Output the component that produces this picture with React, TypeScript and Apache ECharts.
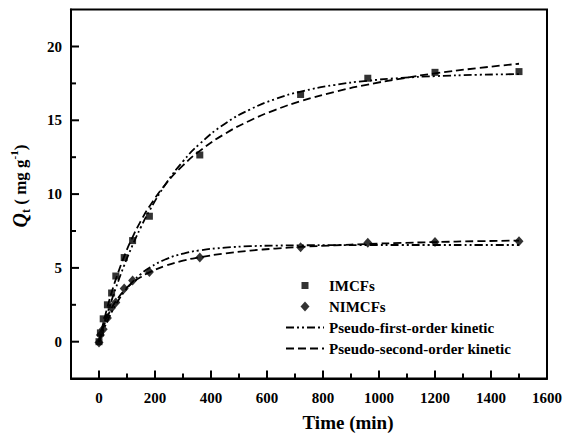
import React, { useEffect, useRef } from "react";
import * as echarts from "echarts";

// Experimental data (time in min, Qt in mg/g)
const TIME_POINTS = [0, 5, 15, 30, 45, 60, 90, 120, 180, 360, 720, 960, 1200, 1500];
const IMCFS_Q = [0, 0.6, 1.55, 2.5, 3.3, 4.45, 5.7, 6.85, 8.5, 12.65, 16.75, 17.85, 18.25, 18.3];
const NIMCFS_Q = [-0.05, 0.45, 0.85, 1.6, 2.3, 2.65, 3.6, 4.15, 4.72, 5.7, 6.4, 6.7, 6.75, 6.8];

// Fitted curves
const FIT_TIMES = [0, 10, 20, 30, 45, 60, 90, 120, 150, 180, 240, 300, 360, 450, 540, 630, 720, 840, 960, 1080, 1200, 1350, 1500];
const PFO_IMCFS = [0, 0.66, 1.3, 1.92, 2.8, 3.63, 5.17, 6.54, 7.77, 8.87, 10.73, 12.22, 13.41, 14.77, 15.74, 16.44, 16.94, 17.39, 17.68, 17.87, 17.99, 18.08, 18.13];
const PSO_IMCFS = [0, 0.84, 1.61, 2.34, 3.33, 4.22, 5.78, 7.09, 8.2, 9.16, 10.72, 11.94, 12.93, 14.09, 14.99, 15.71, 16.29, 16.92, 17.42, 17.83, 18.18, 18.53, 18.83];
const PFO_NIMCFS = [0, 0.51, 0.97, 1.41, 1.99, 2.51, 3.38, 4.06, 4.59, 5.01, 5.6, 5.96, 6.19, 6.37, 6.47, 6.51, 6.53, 6.54, 6.55, 6.55, 6.55, 6.55, 6.55];
const PSO_NIMCFS = [0, 0.67, 1.22, 1.69, 2.27, 2.74, 3.47, 3.99, 4.39, 4.7, 5.16, 5.49, 5.72, 5.98, 6.17, 6.31, 6.42, 6.53, 6.62, 6.69, 6.75, 6.81, 6.85];

// Axis ranges and ticks
const X_RANGE = [-100, 1600];
const Y_RANGE = [-2.5, 22.5];
const X_MAJOR = [0, 200, 400, 600, 800, 1000, 1200, 1400, 1600];
const X_MINOR = [100, 300, 500, 700, 900, 1100, 1300, 1500];
const Y_MAJOR = [0, 5, 10, 15, 20];
const Y_MINOR = [2.5, 7.5, 12.5, 17.5];

const LEGEND_NAMES = ["IMCFs", "NIMCFs", "Pseudo-first-order kinetic", "Pseudo-second-order kinetic"];

const FONT = '"Liberation Serif", "Times New Roman", serif';

function pairs(xs: number[], ys: number[]) {
  return xs.map((x, i) => [x, ys[i]]);
}

export default function App() {
  const ref = useRef<HTMLDivElement>(null);
  useEffect(() => {
    if (!ref.current) return;
    const chart = echarts.init(ref.current, null, { renderer: "svg" });
    const axisLineStyle = { color: "#000", width: 2 };
    const labelStyle = { color: "#000", fontFamily: FONT, fontWeight: "bold" as const, fontSize: 15 };
    const pfoLine = { color: "#000", width: 1.8, type: [8, 3, 2, 3, 2, 3] };
    const psoLine = { color: "#000", width: 1.8, type: [8, 4] };
    const plain = (v: number) => String(v);
    const hiddenSymbol = { color: "rgba(0,0,0,0)", borderColor: "rgba(0,0,0,0)", borderWidth: 0 };
    chart.setOption({
      animation: false,
      backgroundColor: "#fff",
      grid: {
        left: 71,
        right: 15.6,
        top: 9.6,
        bottom: 57.4,
        show: true,
        borderColor: "#000",
        borderWidth: 2,
      },
      xAxis: {
        type: "value",
        min: X_RANGE[0],
        max: X_RANGE[1],
        position: "bottom",
        axisLine: { show: true, onZero: false, lineStyle: axisLineStyle },
        splitLine: { show: false },
        axisTick: { show: false },
        axisLabel: { ...labelStyle, margin: 12, customValues: X_MAJOR, formatter: plain },
      },
      yAxis: {
        type: "value",
        min: Y_RANGE[0],
        max: Y_RANGE[1],
        position: "left",
        axisLine: { show: true, onZero: false, lineStyle: axisLineStyle },
        splitLine: { show: false },
        axisTick: { show: false },
        axisLabel: { ...labelStyle, margin: 9, customValues: Y_MAJOR, formatter: plain },
      },
      legend: {
        data: [
          { name: LEGEND_NAMES[0], icon: "path://M0,0 M14,14 M3.5,3.5 L10.5,3.5 L10.5,10.5 L3.5,10.5 Z" },
          { name: LEGEND_NAMES[1], icon: "path://M0,0 M14,14 M7,2 L11.5,7 L7,12 L2.5,7 Z" },
          { name: LEGEND_NAMES[2], itemStyle: hiddenSymbol },
          { name: LEGEND_NAMES[3], itemStyle: hiddenSymbol },
        ],
        orient: "vertical",
        left: 280,
        top: 273,
        itemWidth: 38,
        itemHeight: 14,
        itemGap: 6,
        itemTextGap: 8,
        textStyle: { ...labelStyle, fontSize: 15 },
      },
      series: [
        {
          name: LEGEND_NAMES[2],
          type: "line",
          data: pairs(FIT_TIMES, PFO_IMCFS),
          smooth: true,
          symbol: "none",
          lineStyle: pfoLine,
          itemStyle: { color: "#000" },
          z: 2,
        },
        {
          name: LEGEND_NAMES[2],
          type: "line",
          data: pairs(FIT_TIMES, PFO_NIMCFS),
          smooth: true,
          symbol: "none",
          lineStyle: pfoLine,
          itemStyle: { color: "#000" },
          z: 2,
        },
        {
          name: LEGEND_NAMES[3],
          type: "line",
          data: pairs(FIT_TIMES, PSO_IMCFS),
          smooth: true,
          symbol: "none",
          lineStyle: psoLine,
          itemStyle: { color: "#000" },
          z: 2,
        },
        {
          name: LEGEND_NAMES[3],
          type: "line",
          data: pairs(FIT_TIMES, PSO_NIMCFS),
          smooth: true,
          symbol: "none",
          lineStyle: psoLine,
          itemStyle: { color: "#000" },
          z: 2,
        },
        {
          name: LEGEND_NAMES[0],
          type: "scatter",
          data: pairs(TIME_POINTS, IMCFS_Q),
          symbol: "rect",
          symbolSize: 7,
          itemStyle: { color: "#000" },
          z: 3,
        },
        {
          name: LEGEND_NAMES[1],
          type: "scatter",
          data: pairs(TIME_POINTS, NIMCFS_Q),
          symbol: "diamond",
          symbolSize: [9, 10],
          itemStyle: { color: "#000" },
          z: 3,
        },
      ],
    });

    // Tick marks and axis titles, placed through the chart's own scales
    const toPx = (x: number, y: number) => chart.convertToPixel({ gridIndex: 0 }, [x, y]) as number[];
    const tickLine = (x1: number, y1: number, x2: number, y2: number) => ({
      type: "line",
      silent: true,
      z: 10,
      shape: { x1, y1, x2, y2 },
      style: { stroke: "#000", lineWidth: 2 },
    });
    const ticks: any[] = [];
    X_MAJOR.forEach((v) => {
      const p = toPx(v, Y_RANGE[0]);
      ticks.push(tickLine(p[0], p[1], p[0], p[1] - 8));
    });
    X_MINOR.forEach((v) => {
      const p = toPx(v, Y_RANGE[0]);
      ticks.push(tickLine(p[0], p[1], p[0], p[1] - 5));
    });
    Y_MAJOR.forEach((v) => {
      const p = toPx(X_RANGE[0], v);
      ticks.push(tickLine(p[0], p[1], p[0] + 8, p[1]));
    });
    Y_MINOR.forEach((v) => {
      const p = toPx(X_RANGE[0], v);
      ticks.push(tickLine(p[0], p[1], p[0] + 5, p[1]));
    });

    chart.setOption({
      graphic: [
        ...ticks,
        {
          type: "text",
          x: 348,
          y: 422,
          style: {
            text: "Time (min)",
            fontFamily: FONT,
            fontWeight: "bold",
            fontSize: 19,
            fill: "#000",
            align: "center",
            verticalAlign: "middle",
          },
        },
        {
          type: "text",
          x: 20,
          y: 186,
          rotation: Math.PI / 2,
          style: {
            text: "{q|Q}{t|t}{n| ( mg g}{s|-1}{n|)}",
            fill: "#000",
            align: "center",
            verticalAlign: "middle",
            rich: {
              q: { fontFamily: FONT, fontWeight: "bold", fontStyle: "italic", fontSize: 20, lineHeight: 24, fill: "#000" },
              t: { fontFamily: FONT, fontWeight: "bold", fontSize: 12, lineHeight: 12, verticalAlign: "bottom", fill: "#000" },
              n: { fontFamily: FONT, fontWeight: "bold", fontSize: 17, lineHeight: 24, fill: "#000" },
              s: { fontFamily: FONT, fontWeight: "bold", fontSize: 11, lineHeight: 11, verticalAlign: "top", fill: "#000" },
            },
          },
        },
      ],
    });
    return () => chart.dispose();
  }, []);
  return (
    <div
      ref={ref}
      style={{ position: "fixed", left: 0, top: 0, width: 565, height: 436, background: "#fff" }}
    />
  );
}
